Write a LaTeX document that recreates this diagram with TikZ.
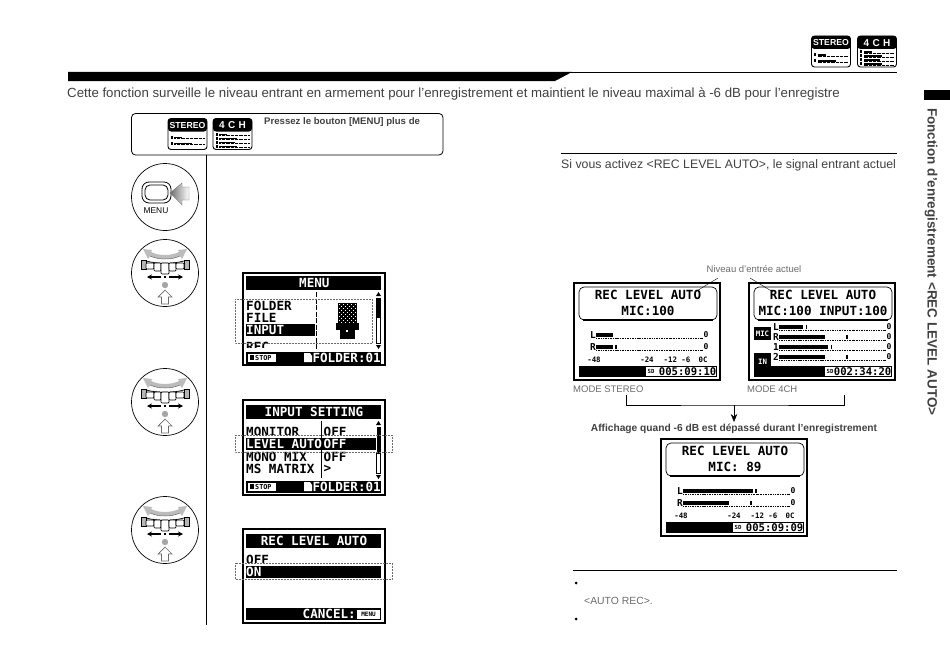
\documentclass[tikz,border=0pt]{standalone}
\usepackage{fontspec}
\setmainfont{Liberation Sans}
\newfontfamily\lcdfont{DejaVu Sans Mono}
\usetikzlibrary{arrows.meta}
\definecolor{inkgrey}{rgb}{0.25,0.25,0.25}
\definecolor{softgrey}{rgb}{0.42,0.42,0.42}

\begin{document}
\begin{tikzpicture}[x=1pt, y=-1pt,
  body/.style={font=\fontsize{13.25}{15}\selectfont, text=inkgrey, inner sep=0pt, anchor=west},
  small/.style={font=\fontsize{9.5}{11}\selectfont, text=softgrey, inner sep=0pt, anchor=west},
  lcd/.style={font=\fontsize{12.6}{13}\selectfont\lcdfont\bfseries, inner sep=0pt, anchor=west},
  lcdw/.style={lcd, text=white},
  lcdc/.style={lcd, anchor=center},
  tiny/.style={font=\fontsize{7.4}{8}\selectfont\lcdfont\bfseries, inner sep=0pt},
  clock/.style={font=\fontsize{10.6}{11}\selectfont\lcdfont\bfseries, inner sep=0pt, anchor=east},
  wheel/.style={circle, draw=black, line width=.7pt, fill=white, minimum size=67pt, inner sep=0pt},
  outline/.style={draw=softgrey, densely dotted, line width=.5pt}]

\useasboundingbox (0,0) rectangle (950,669);

%─────────────
% Softkey bar at the foot of a menu screen
%─────────────
\newcommand{\drawBottomBar}[3]{% name, y, label
  \fill (246,#2) rectangle ++(135,11.5);
  \fill[white] (247.5,#2+1.5) rectangle ++(28,8.5);
  \fill (250,#2+3) rectangle ++(3.5,5);
  \node[tiny, text=black, anchor=west, font=\fontsize{6.8}{7}\selectfont\lcdfont\bfseries] (#1stop) at (255,#2+5.7) {STOP};
  \fill[white] (304,#2+1) -- (310,#2+1) -- (312,#2+4) -- (312,#2+10) -- (304,#2+10) -- cycle;
  \node[lcdw, anchor=east] (#1folder) at (381,#2+6) {#3};
}

%─────────────
% Icons for the two recording modes
%─────────────
\newcommand{\drawModeIcon}[6]{% name, x, y, title, title size, meter rows
  \begin{scope}[shift={(#2,#3)}]
    \draw[rounded corners=3pt, fill=white, line width=.9pt] (0,0) rectangle (39,31);
    \fill[rounded corners=3pt] (0,0) rectangle (39,13);
    \node[font=\fontsize{#5}{9}\selectfont\bfseries, text=white, inner sep=0pt] (#1) at (19.5,7) {#4};
    \foreach \row/\barend in {#6} {
      \draw[line width=.3pt, densely dotted] (6,\row+1) -- (36,\row+1);
      \fill (6,\row-1) rectangle (\barend,\row+.6);
      \fill (2.5,\row-1.5) rectangle (4.5,\row+1);
    }
  \end{scope}
}

%─────────────
% Wheel with arrows (turn, then press)
%─────────────
\newcommand{\drawWheel}[3]{% name, x, y
  \node[wheel] (#1) at (#2,#3) {};
  \begin{scope}[shift={(#2,#3)}]
    \fill[softgrey!45] (-22,-24) -- (-13,-23) -- (-14,-21) .. controls (-6,-17) and (6,-17) .. (14,-21) -- (13,-23) -- (22,-24)
      -- (17,-14) -- (15,-17) .. controls (6,-13) and (-6,-13) .. (-15,-17) -- (-17,-14) -- cycle;
    \draw[line width=.5pt, softgrey] (-15,-17) .. controls (-6,-13) and (6,-13) .. (15,-17);
    \draw[fill=softgrey!50, line width=.6pt] (-24,-13) rectangle (-19,-4);
    \draw[fill=softgrey!50, line width=.6pt] (19,-13) rectangle (24,-4);
    \draw[line width=.7pt] (-19,-12) .. controls (-8,-9) and (8,-9) .. (19,-12);
    \foreach \kl/\kr/\kb in {-19/-11/-4, -11/-4/-2, -4/4/1, 4/11/-2, 11/19/-4} {
      \draw[fill=white, line width=.7pt, rounded corners=1pt] (\kl,-10) rectangle (\kr,\kb);
    }
    \fill (-1,3) rectangle (1,5);
    \draw[-{Stealth[length=5pt,width=5pt]}, line width=1.2pt] (-4,4) -- (-18,4);
    \draw[-{Stealth[length=5pt,width=5pt]}, line width=1.2pt] (4,4) -- (18,4);
    \fill[softgrey!60] (0,12) circle (3.2);
    \draw[softgrey, fill=white, line width=.7pt] (0,17) -- (7,24) -- (3.5,24) -- (3.5,31) -- (-3.5,31) -- (-3.5,24) -- (-7,24) -- cycle;
  \end{scope}
}

%─────────────
% One level meter row: name, label, x, y, bar end, peak, scale end
%─────────────
\newcommand{\drawMeterRow}[7]{%
  \node[lcd, font=\fontsize{9.5}{10}\selectfont\lcdfont\bfseries] (#1) at (#3-6,#4+2) {#2};
  \fill (#3,#4) rectangle (#5,#4+4);
  \fill (#6,#4) rectangle (#6+1.6,#4+4);
  \draw[line width=.5pt, dash pattern=on .7pt off 1pt] (#3,#4+5.5) -- (#7,#4+5.5);
  \foreach \tick in {0,10,...,100} {
    \draw[line width=.5pt] ({#3+(#7-#3)*\tick/100},#4+4.5) -- ++(0,1.5);
  }
  \node[tiny, font=\fontsize{8}{8}\selectfont\lcdfont\bfseries] (#1end) at (#7+4,#4+2) {0};
}

%─────────────
% Recording level screen with the rounded title box
%─────────────
\newcommand{\drawLevelFrame}[6]{% name, x, y, line two, time-left, time
  \draw[line width=2pt] (#2+1,#3+1) rectangle ++(146,97);
  \draw[line width=.7pt, rounded corners=5pt] (#2+6,#3+5) rectangle ++(138,33);
  \draw[line width=1.2pt] (#2+10,#3+38) -- ++(130,0);
  \node[lcdc] (#1top) at (#2+75,#3+13) {REC LEVEL AUTO};
  \node[lcdc] (#1mic) at (#2+75,#3+29) {#4};
  \fill (#2+6,#3+84) rectangle ++(138,11);
  \fill[white] (#2+#5,#3+85) rectangle (#2+143,#3+94);
  \node[tiny, font=\fontsize{5.6}{6}\selectfont\lcdfont\bfseries] (#1sd) at (#2+#5+5,#3+89.5) {SD};
  \node[clock] (#1time) at (#2+143.5,#3+89.7) {#6};
}
\newcommand{\drawStereoScreen}[9]{% name, x, y, line two, L end, L peak, R end, R peak, time
  \drawLevelFrame{#1}{#2}{#3}{#4}{73}{#9}
  \begin{scope}[shift={(#2,#3)}]
    \drawMeterRow{#1L}{L}{23}{51}{#5}{#6}{129}
    \drawMeterRow{#1R}{R}{23}{63}{#7}{#8}{129}
    \foreach \sname/\stext/\sx in {a/-48/21, b/-24/74, c/-12 -6/104, d/0C/130} {
      \node[tiny] (#1\sname) at (\sx,78) {\stext};
    }
  \end{scope}
}

%─────────────
% Header
%─────────────
\fill (68,72) -- (572,72) -- (555,81) -- (68,81) -- cycle;
\draw[line width=.8pt] (570,72.4) -- (897,72.4);
\drawModeIcon{iconA}{811.5}{36}{STEREO}{8.7}{19/14, 25/24}
\drawModeIcon{iconB}{857.5}{36}{4\,\,C\,\,H}{10}{16/14, 20/24, 24/22, 28/24}
\node[body] (intro) at (67,94) {Cette fonction surveille le niveau entrant en armement pour l'enregistrement et maintient le niveau maximal à -6 dB pour l'enregistre};

%─────────────
% Side tab
%─────────────
\fill (924,90) rectangle (950,100);
\node[font=\fontsize{13.5}{15}\selectfont\bfseries, text=inkgrey, rotate=-90, inner sep=0pt, anchor=west] (tab) at (931,108) {Fonction d'enregistrement <REC LEVEL AUTO>};

%─────────────
% Step column
%─────────────
\draw[line width=.8pt, rounded corners=4pt] (131.5,113.5) rectangle (443,155);
\drawModeIcon{iconC}{168}{118.5}{STEREO}{8.7}{19/14, 25/24}
\drawModeIcon{iconD}{213}{118.5}{4\,\,C\,\,H}{10}{16/14, 20/24, 24/22, 28/24}
\node[font=\fontsize{9.6}{11}\selectfont\bfseries, text=inkgrey, inner sep=0pt, anchor=west] (press) at (264,122) {Pressez le bouton [MENU] plus de};
\draw[line width=.8pt] (206.5,155) -- (206.5,625);

% menu button
\node[wheel] (button) at (165,197) {};
\draw[line width=.8pt, rounded corners=7pt] (142,182) rectangle (171,203);
\draw[line width=.8pt, rounded corners=5pt] (145,185) rectangle (168,200);
\shade[left color=softgrey, right color=white, draw=softgrey, line width=.3pt]
  (170,193) -- (182,183) -- (182,187) -- (189,187) -- (189,200) -- (182,200) -- (182,205) -- cycle;
\node[font=\fontsize{8.4}{9}\selectfont, inner sep=0pt] (buttonlabel) at (156,211) {MENU};

\drawWheel{wheelA}{165}{273}
\drawWheel{wheelB}{165}{402}
\drawWheel{wheelC}{165}{530}

%─────────────
% Screen 1: MENU
%─────────────
\draw[line width=2pt] (243,273) rectangle (385,365);
\fill (246,276) rectangle (381,290);
\node[lcdw] (menutitle) at (299,283) {MENU};
\node[lcd] (folder) at (246,306) {FOLDER};
\node[lcd] (file) at (246,318) {FILE};
\fill (246,324) rectangle (315,336);
\node[lcdw] (input) at (246,330) {INPUT};
\begin{scope}
  \clip (244,337) rectangle (320,347);
  \node[lcd] (rec) at (246,346.5) {REC};
\end{scope}
\draw[line width=.6pt, dash pattern=on 5pt off 1.5pt] (316.5,292) -- (316.5,350);
\fill (376,298) rectangle (381,317);
\draw[line width=.7pt] (376.5,317) rectangle (380.5,343);
\fill (378.5,292) -- (381,296) -- (376,296) -- cycle;
\fill (378.5,349) -- (381,345) -- (376,345) -- cycle;
% microphone
\fill (338,303) rectangle (357,323);
\foreach \i in {0,...,8} {
  \foreach \j in {0,...,9} {
    \pgfmathparse{int(mod(\i+\j,2))}
    \ifnum\pgfmathresult=0
      \fill[white] (338.6+2*\i,303.5+2*\j) rectangle ++(1.2,1.2);
    \fi
  }
}
\fill (336,323) rectangle (359,330);
\fill (340,330) rectangle (355,339);
\fill[white] (346,330) rectangle (348,332);
\drawBottomBar{barA}{352}{FOLDER:01}
\draw[outline] (235,299) rectangle (372,343);

%─────────────
% Screen 2: INPUT SETTING
%─────────────
\draw[line width=2pt] (243,400) rectangle (385,495);
\fill (246,405) rectangle (381,419);
\node[lcdw, anchor=center] (settingtitle) at (314,412) {INPUT SETTING};
\begin{scope}
  \clip (244,425) rectangle (370,434);
  \node[lcd] (monitor) at (246,431.5) {MONITOR};
  \node[lcd] (monitorval) at (323.5,431.5) {OFF};
\end{scope}
\fill (246,438) rectangle (376,450);
\node[lcdw] (levelauto) at (246,444) {LEVEL AUTO};
\node[lcdw] (levelval) at (323.5,444) {OFF};
\node[lcd] (monomix) at (246,457) {MONO MIX};
\node[lcd] (monoval) at (323.5,457) {OFF};
\node[lcd] (msmatrix) at (246,469) {MS MATRIX};
\node[lcd] (msval) at (323.5,469) {>};
\draw[line width=.6pt] (321.5,421) -- (321.5,438);
\draw[line width=.6pt] (321.5,450) -- (321.5,478);
\fill (376.5,427) rectangle (381,453);
\draw[line width=.7pt] (376.5,453) rectangle (380.5,473);
\fill (378.5,421) -- (381,425) -- (376,425) -- cycle;
\fill (378.5,479) -- (381,475) -- (376,475) -- cycle;
\drawBottomBar{barB}{481}{FOLDER:01}
\draw[outline] (235,435) rectangle (392,452);

%─────────────
% Screen 3: REC LEVEL AUTO
%─────────────
\draw[line width=2pt] (243,529) rectangle (385,623);
\fill (246,534) rectangle (381,548);
\node[lcdw, anchor=center] (autotitle) at (314,541) {REC LEVEL AUTO};
\begin{scope}
  \clip (244,552) rectangle (300,562.5);
  \node[lcd] (offitem) at (246,560) {OFF};
\end{scope}
\fill (246,566) rectangle (381,578);
\node[lcdw] (onitem) at (246,572) {ON};
\fill (246,608) rectangle (381,620);
\node[lcdw, anchor=east] (cancel) at (356,614) {CANCEL:};
\fill[white] (357,609.5) rectangle (380,618.5);
\node[tiny, font=\fontsize{6}{6}\selectfont\lcdfont\bfseries] (cancelkey) at (368.5,614) {MENU};
\draw[outline] (235,563) rectangle (392,579);

%─────────────
% Right column
%─────────────
\draw[line width=.5pt] (561,153) -- (897,153);
\node[body, font=\fontsize{12.3}{14}\selectfont] (activez) at (561,165) {Si vous activez <REC LEVEL AUTO>, le signal entrant actuel};
\node[small, anchor=center] (niveau) at (754,269) {Niveau d'entrée actuel};
\coordinate (leadA) at (718,278);
\coordinate (leadB) at (695,292);
\coordinate (leadC) at (750,278);
\coordinate (leadD) at (773,292);

\drawStereoScreen{left}{573}{282}{MIC:100}{40}{29.5}{40}{42}{005:09:10}
\drawStereoScreen{mid}{660}{438}{MIC: 89}{93}{95}{69}{90}{005:09:09}

% four channel screen
\drawLevelFrame{right}{748}{282}{MIC:100 INPUT:100}{77}{002:34:20}
\begin{scope}[shift={(748,282)}]
  \fill (6,45) rectangle (23,58);
  \node[tiny, text=white] (mictag) at (14.5,51.5) {MIC};
  \fill (6,71) rectangle (23,88);
  \node[tiny, text=white] (intag) at (14.5,79.5) {IN};
  \drawMeterRow{rowL}{L}{31}{43}{55}{57.5}{137}
  \drawMeterRow{rowR}{R}{31}{53}{77}{98}{137}
  \drawMeterRow{rowA}{1}{31}{63}{80}{82.5}{137}
  \drawMeterRow{rowB}{2}{31}{73}{77}{98}{137}
\end{scope}
\draw[line width=.4pt] (leadA) -- (leadB);
\draw[line width=.4pt] (leadC) -- (leadD);

\node[small] (modeA) at (573,389) {MODE STEREO};
\node[small] (modeB) at (747,389) {MODE 4CH};

\coordinate (braceL) at (626,395);
\coordinate (braceR) at (844,395);
\coordinate (braceM) at (734,405);
\node[font=\fontsize{10.2}{12}\selectfont\bfseries, text=inkgrey, inner sep=0pt] (affichage) at (734,429) {Affichage quand -6 dB est dépassé durant l'enregistrement};
\draw[line width=.6pt] (braceL) |- (braceM) -| (braceR);
\draw[line width=.6pt, -{Stealth[length=8pt,width=6.5pt]}, shorten >=2pt] (braceM) -- (affichage.north -| braceM);

\draw[line width=.6pt] (573,570) -- (897,570);
\node[circle, fill=black, inner sep=0pt, minimum size=3pt] (bulletA) at (576,583) {};
\node[small, font=\fontsize{10.4}{12}\selectfont] (autorec) at (584,601) {<AUTO REC>.};
\node[circle, fill=black, inner sep=0pt, minimum size=3pt] (bulletB) at (576,619) {};

\end{tikzpicture}
\end{document}
